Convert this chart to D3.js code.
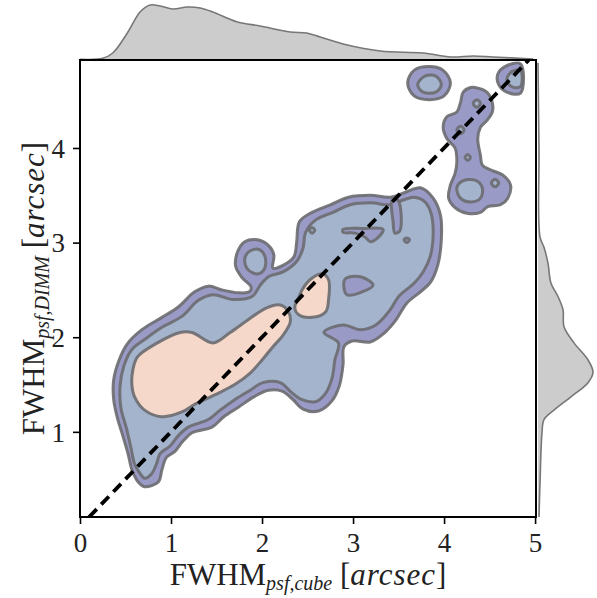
<!DOCTYPE html>
<html><head><meta charset="utf-8">
<script src="https://cdn.jsdelivr.net/npm/d3@7"></script>
<style>html,body{margin:0;padding:0;background:#fff}</style>
</head><body>
<svg id="c" width="597" height="598"></svg>
<script>
// ---------- DATA ----------
const xTicks = [0, 1, 2, 3, 4, 5];
const yTicks = [1, 2, 3, 4];
const xLabel = {main: "FWHM", sub: "psf,cube", unit: "arcsec"};
const yLabel = {main: "FWHM", sub: "psf,DIMM", unit: "arcsec"};
const refLine = [[0.1, 0.1], [4.93, 4.93]];

// marginal densities
const topX = [0,0.25,0.36,0.52,0.66,0.77,0.88,1.02,1.18,1.32,1.46,1.73,1.98,2.31,2.49,2.64,2.89,3.30,3.77,4.07,4.32,4.54,4.98];
const topDens = [0.007,0.017,0.07,0.27,0.48,0.55,0.54,0.51,0.53,0.52,0.48,0.38,0.34,0.28,0.27,0.23,0.16,0.09,0.07,0.03,0.04,0.03,0.01];
const rightY = [4.90,3.98,3.06,2.95,2.78,2.57,2.43,2.29,2.11,1.94,1.76,1.63,1.52,1.37,1.23,1.13,0.99,0.46,0.10];
const rightDens = [0.00,0.01,0.02,0.06,0.10,0.13,0.20,0.25,0.26,0.36,0.50,0.55,0.50,0.33,0.16,0.06,0.04,0.02,0.01];

// contour level 1 (outer)
const outerMain = [[0.71,0.42],[0.86,0.47],[0.90,0.60],[0.95,0.73],[1.04,0.79],[1.13,0.90],[1.23,0.99],[1.45,1.05],[1.58,1.16],[1.74,1.26],[1.91,1.37],[2.07,1.44],[2.22,1.43],[2.34,1.34],[2.45,1.24],[2.62,1.22],[2.77,1.33],[2.85,1.49],[2.89,1.71],[2.90,1.90],[2.99,1.96],[3.19,1.95],[3.35,2.05],[3.47,2.18],[3.59,2.36],[3.74,2.48],[3.85,2.58],[3.93,2.76],[3.97,3.03],[3.96,3.29],[3.88,3.47],[3.74,3.58],[3.57,3.53],[3.41,3.48],[3.19,3.50],[2.95,3.48],[2.75,3.40],[2.53,3.31],[2.41,3.22],[2.38,3.00],[2.35,2.85],[2.23,2.76],[2.12,2.73],[2.13,2.87],[2.07,2.97],[1.95,3.03],[1.81,3.01],[1.73,2.90],[1.71,2.75],[1.78,2.63],[1.88,2.53],[1.86,2.48],[1.74,2.47],[1.56,2.50],[1.41,2.54],[1.26,2.48],[1.08,2.32],[0.90,2.21],[0.68,2.08],[0.52,1.93],[0.43,1.76],[0.37,1.55],[0.37,1.34],[0.41,1.15],[0.47,0.96],[0.53,0.76],[0.57,0.60],[0.64,0.47]];
const outerBlobA = [[3.84,4.86],[3.99,4.82],[4.07,4.69],[4.00,4.55],[3.84,4.51],[3.67,4.55],[3.60,4.69],[3.67,4.82]];
const outerBlobB = [[4.67,4.86],[4.84,4.89],[4.84,4.58],[4.69,4.59],[4.60,4.67],[4.59,4.78]];
const outerChain = [[4.34,4.64],[4.47,4.59],[4.53,4.48],[4.53,4.38],[4.47,4.29],[4.40,4.22],[4.37,4.10],[4.40,3.92],[4.42,3.82],[4.51,3.77],[4.65,3.71],[4.73,3.61],[4.70,3.47],[4.62,3.40],[4.48,3.38],[4.40,3.32],[4.25,3.31],[4.12,3.37],[4.05,3.47],[4.07,3.61],[4.12,3.73],[4.14,3.85],[4.12,4.00],[4.03,4.10],[3.99,4.22],[4.03,4.33],[4.14,4.38],[4.18,4.48],[4.21,4.59],[4.29,4.64]];

// contour level 2 (middle)
const midMain = [[0.71,0.51],[0.79,0.56],[0.84,0.66],[0.88,0.77],[0.99,0.85],[1.08,0.96],[1.19,1.05],[1.41,1.13],[1.54,1.23],[1.70,1.34],[1.87,1.44],[2.01,1.52],[2.20,1.52],[2.32,1.42],[2.44,1.34],[2.59,1.32],[2.70,1.41],[2.77,1.57],[2.80,1.76],[2.84,1.94],[2.68,2.05],[2.89,2.13],[3.08,2.08],[3.25,2.13],[3.40,2.28],[3.51,2.44],[3.67,2.57],[3.77,2.69],[3.85,2.86],[3.88,3.08],[3.86,3.30],[3.79,3.43],[3.67,3.48],[3.55,3.45],[3.41,3.40],[3.19,3.42],[2.97,3.40],[2.78,3.32],[2.59,3.24],[2.48,3.11],[2.45,2.94],[2.38,2.80],[2.23,2.69],[2.07,2.64],[1.98,2.55],[1.89,2.43],[1.67,2.40],[1.46,2.45],[1.30,2.39],[1.12,2.22],[0.91,2.11],[0.73,1.99],[0.57,1.87],[0.48,1.69],[0.44,1.48],[0.45,1.25],[0.51,1.04],[0.56,0.83],[0.60,0.66],[0.66,0.56]];
const midLoop = [[1.85,2.90],[1.96,2.93],[2.03,2.86],[2.03,2.73],[1.96,2.67],[1.85,2.71],[1.81,2.82]];
const midBlobA = [[3.79,4.76],[3.91,4.76],[3.97,4.67],[3.91,4.59],[3.77,4.59],[3.71,4.67]];
const midBlobB = [[4.75,4.81],[4.84,4.82],[4.84,4.65],[4.74,4.65],[4.69,4.73]];
const midChain = [[4.20,3.65],[4.34,3.66],[4.42,3.58],[4.40,3.47],[4.29,3.43],[4.18,3.47],[4.14,3.58]];
const midSpots = [
  [[2.55,3.16],[2.58,3.13],[2.55,3.10],[2.52,3.13]],
  [[4.36,4.51],[4.40,4.47],[4.36,4.43],[4.32,4.47]],
  [[4.18,4.23],[4.22,4.19],[4.18,4.15],[4.14,4.19]],
  [[4.26,3.93],[4.29,3.90],[4.26,3.87],[4.23,3.90]],
  [[4.56,3.67],[4.60,3.63],[4.56,3.59],[4.52,3.63]]
];
// holes back to level 1 inside level 2
const holes = [
  [[2.91,2.61],[3.08,2.64],[3.22,2.55],[3.10,2.48],[2.93,2.45]],
  [[2.89,3.14],[3.11,3.15],[3.33,3.14],[3.27,3.05],[3.19,3.01],[3.13,3.06],[3.02,3.10],[2.89,3.11]],
  [[3.43,3.45],[3.49,3.45],[3.53,3.27],[3.51,3.12],[3.46,3.10],[3.44,3.22]],
  [[3.59,3.05],[3.62,3.03],[3.59,3.00],[3.56,3.03]]
];

// contour level 3 (inner)
const innerMain = [[0.63,1.79],[0.85,1.94],[1.10,2.05],[1.23,2.05],[1.46,1.94],[1.65,2.05],[1.84,2.18],[2.05,2.31],[2.20,2.34],[2.29,2.27],[2.31,2.16],[2.23,2.02],[2.12,1.90],[2.00,1.76],[1.87,1.62],[1.70,1.50],[1.48,1.39],[1.26,1.29],[1.12,1.21],[0.90,1.16],[0.71,1.23],[0.60,1.37],[0.57,1.50],[0.58,1.65]];
const innerSmall = [[2.44,2.50],[2.53,2.61],[2.66,2.67],[2.73,2.61],[2.73,2.39],[2.70,2.27],[2.55,2.21],[2.40,2.24],[2.36,2.32],[2.40,2.41]];

// ---------- DRAW ----------
const L = 80, R = 536, T = 60, B = 517;
const svg = d3.select("#c");
const x = d3.scaleLinear().domain([0, 5.01]).range([L, R]);
const y = d3.scaleLinear().domain([0.1, 4.93]).range([B, T]);

const cPurple = "#9a9ac6", cBlue = "#a3b4cc", cSalmon = "#f6d8ca";
const edge = "#6c6c70";

svg.append("defs").append("clipPath").attr("id", "plotclip")
  .append("rect").attr("x", L).attr("y", T).attr("width", R - L).attr("height", B - T);

// marginals
const mTop = d3.scaleLinear().domain([0, 0.6]).range([T, 0]);
const mRight = d3.scaleLinear().domain([0, 0.6]).range([538, 598]);
const topData = topX.map((v, i) => ({x: v, d: topDens[i]}));
svg.append("path").datum(topData)
  .attr("d", d3.area().x(d => x(d.x)).y0(mTop(0)).y1(d => mTop(d.d)).curve(d3.curveCatmullRom))
  .attr("fill", "#cccccc").attr("stroke", "none");
svg.append("path").datum(topData)
  .attr("d", d3.line().x(d => x(d.x)).y(d => mTop(d.d)).curve(d3.curveCatmullRom))
  .attr("fill", "none").attr("stroke", "#777").attr("stroke-width", 1.6);
const rightData = rightY.map((v, i) => ({y: v, d: rightDens[i]}));
svg.append("path").datum(rightData)
  .attr("d", d3.area().y(d => y(d.y)).x0(mRight(0)).x1(d => mRight(d.d)).curve(d3.curveCatmullRom))
  .attr("fill", "#cccccc").attr("stroke", "none");
svg.append("path").datum(rightData)
  .attr("d", d3.line().y(d => y(d.y)).x(d => mRight(d.d)).curve(d3.curveCatmullRom))
  .attr("fill", "none").attr("stroke", "#777").attr("stroke-width", 1.6);

// contours
const g = svg.append("g").attr("clip-path", "url(#plotclip)");
const shape = d3.line().x(d => x(d[0])).y(d => y(d[1])).curve(d3.curveCatmullRomClosed.alpha(0.5));
function draw(polys, fill) {
  g.selectAll(null).data(polys).enter().append("path")
    .attr("d", shape).attr("fill", fill)
    .attr("stroke", edge).attr("stroke-width", 3).attr("stroke-opacity", 0.9)
    .attr("stroke-linejoin", "round");
}
draw([outerMain, outerBlobA, outerBlobB, outerChain], cPurple);
draw([midMain, midLoop, midBlobA, midBlobB, midChain, ...midSpots], cBlue);
draw(holes, cPurple);
draw([innerMain, innerSmall], cSalmon);

// reference line
g.append("path").datum(refLine)
  .attr("d", d3.line().x(d => x(d[0])).y(d => y(d[1])))
  .attr("stroke", "#000").attr("stroke-width", 3.8).attr("stroke-dasharray", "11,6.5")
  .attr("fill", "none");

// spines
svg.append("rect").attr("x", L).attr("y", T).attr("width", R - L).attr("height", B - T)
  .attr("fill", "none").attr("stroke", "#000").attr("stroke-width", 2);

// axes
const font = "'Liberation Serif', 'DejaVu Serif', serif";
const xa = svg.append("g").attr("transform", `translate(0,${B})`)
  .call(d3.axisBottom(x).tickValues(xTicks).tickFormat(d3.format("d")).tickSize(7).tickPadding(9));
const ya = svg.append("g").attr("transform", `translate(${L},0)`)
  .call(d3.axisLeft(y).tickValues(yTicks).tickFormat(d3.format("d")).tickSize(7).tickPadding(8));
[xa, ya].forEach(a => {
  a.select(".domain").remove();
  a.selectAll(".tick line").attr("stroke", "#000").attr("stroke-width", 1.6);
  a.selectAll(".tick text").attr("font-family", font).attr("font-size", 27).attr("fill", "#222");
});
ya.selectAll(".tick text").attr("dy", "0.34em");

function axisLabel(lbl, t) {
  const txt = svg.append("text").attr("font-family", font).attr("font-size", 31)
    .attr("fill", "#222").attr("text-anchor", "middle").attr("transform", t);
  txt.append("tspan").text(lbl.main);
  txt.append("tspan").attr("font-size", 20).attr("font-style", "italic").attr("dy", 5).text(lbl.sub);
  txt.append("tspan").attr("dy", -5).text("\u00a0[");
  txt.append("tspan").attr("font-style", "italic").attr("letter-spacing", 1).text(lbl.unit);
  txt.append("tspan").text("]");
}
axisLabel(xLabel, `translate(${(L + R) / 2},585)`);
axisLabel(yLabel, `translate(44,${(T + B) / 2}) rotate(-90)`);
</script>
</body></html>
